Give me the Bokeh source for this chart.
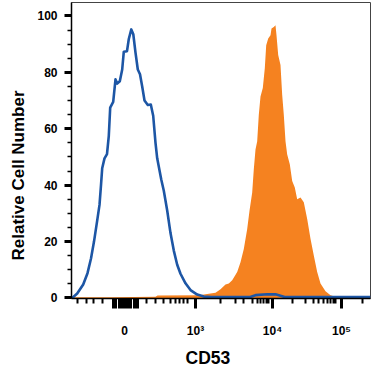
from bokeh.plotting import figure
from bokeh.models import Range1d, FixedTicker, Title
from bokeh.embed import file_html
from bokeh.resources import INLINE

# x values are positions on the biexponential (logicle) display scale, in display units
# Blue: control histogram (outline)
blue_x = [0.7, 5.7, 11.7, 16, 19.5, 22.5, 25.5, 28, 29.5, 30.7, 33, 35.5, 37.3, 38.7, 41.7,
          44, 45.7, 48.3, 50.7, 52.3, 55.5, 57.3, 59.8, 61.8, 64, 66.3, 68.5, 70.7, 73,
          76.3, 79.3, 81.7, 84, 85.7, 89.7, 92.3, 95.7, 99, 102.3, 105.7, 109, 114, 119,
          125.7, 132.3, 140, 178, 184, 195.7, 204, 209, 214, 299]
blue_y = [0, 1.6, 4.8, 8.8, 14, 20, 27, 33, 40, 46, 49.5, 51, 57.5, 67.5, 69.5,
          77.5, 76, 76.8, 81, 87.3, 87.5, 91.8, 95.2, 93.5, 87, 81, 79.3, 75, 70,
          68.4, 68.6, 64.6, 55, 49.5, 42.1, 38, 31, 23, 16.8, 11.8, 8.6, 5.2, 2.8,
          1.2, 0.5, 0.3, 0.3, 1.0, 1.3, 1.3, 0.8, 0.3, 0.3]

# Orange: CD53 stained histogram (filled)
orange_x = [0, 40, 84, 86, 128, 134, 144, 149, 154, 157.3, 160.7, 165.7, 169, 172.3, 175.7,
            178, 180.7, 182.3, 184, 185.7, 187.3, 189, 191.3, 193.3, 194.7, 196.7, 199,
            200, 202.3, 204, 205, 206.7, 209, 210.7, 212.3, 214, 215.7, 218.3, 220.7,
            223.3, 225.7, 229, 232.3, 235.7, 239, 242.3, 245.7, 249, 254, 259, 264, 275, 299]
orange_y = [0.3, 0.3, 0.4, 0.9, 1.0, 1.3, 1.9, 3.1, 4.8, 5.1, 6.3, 9.2, 12.7, 17.4, 24.5,
            30.9, 37.4, 45.6, 52.6, 55.6, 65, 71.4, 74.4, 81.4, 89.6, 92, 93.1,
            95.5, 96.1, 96.7, 93.1, 86.1, 82.6, 72, 65, 55.6, 50.9, 47.4, 41.5,
            39.2, 35, 35.6, 33.9, 28, 21, 15.1, 9.2, 5.1, 2.4, 1.0, 0.4, 0.2, 0.2]

# Axis ticks
x_major = [41.5, 44, 47.5, 50, 53, 56, 59, 63, 65.5, 124, 201, 270]
x_labels = {53: "0", 124: "10³", 201: "10⁴", 270: "10⁵"}
x_minor = [-1, 6.3, 14.7, 22.3, 31.3, 75, 84, 91.7, 99, 104, 108.3, 112.3, 115.7,
           149, 164, 172.3, 180.7, 185.7, 189, 192.3, 195, 197.3,
           220.7, 234, 242.3, 247.3, 252.3, 255.7, 259, 262.3, 264, 290.7]
y_major = [0, 20, 40, 60, 80, 100]
y_minor = [5, 10, 15, 25, 30, 35, 45, 50, 55, 65, 70, 75, 85, 90, 95]

x_title = "CD53"
y_title = "Relative Cell Number"

FONT = "Liberation Sans"

p = figure(width=371, height=372, output_backend="svg", toolbar_location=None,
           x_range=Range1d(0, 299), y_range=Range1d(-0.18, 104.75),
           min_border_left=71, min_border_right=1, min_border_top=2, min_border_bottom=72)
p.grid.visible = False
p.outline_line_color = "#444444"
p.outline_line_width = 1
p.background_fill_color = "white"
p.border_fill_color = "white"

p.varea(x=orange_x, y1=0, y2=orange_y, fill_color="#f58220")
p.line(blue_x, blue_y, line_color="#1d56a5", line_width=2.6, line_join="round")

labels = {t: "" for t in x_major}
labels.update(x_labels)
p.xaxis.ticker = FixedTicker(ticks=x_major, minor_ticks=x_minor)
p.xaxis.major_label_overrides = labels
p.yaxis.ticker = FixedTicker(ticks=y_major, minor_ticks=y_minor)

for ax in (p.xaxis[0], p.yaxis[0]):
    ax.axis_line_color = "black"
    ax.axis_line_width = 1.5
    ax.major_tick_in = 0
    ax.minor_tick_in = 0
    ax.major_tick_line_color = "black"
    ax.minor_tick_line_color = "black"
    ax.major_tick_line_width = 3
    ax.major_label_text_font = FONT
    ax.major_label_text_font_style = "bold"
    ax.major_label_text_font_size = "12px"
    ax.major_label_text_color = "black"

p.xaxis.major_tick_out = 10
p.xaxis.minor_tick_out = 5
p.xaxis.minor_tick_line_width = 2
p.xaxis.major_label_standoff = 15
p.yaxis.major_tick_out = 7
p.yaxis.minor_tick_out = 4
p.yaxis.minor_tick_line_width = 1.5
p.yaxis.major_label_standoff = 7

ytitle = Title(text=y_title, align="left", offset=38, vertical_align="top", text_font=FONT,
               text_font_style="bold", text_font_size="17px", text_color="black",
               standoff=10)
xtitle = Title(text=x_title, align="left", offset=114, text_font=FONT,
               text_font_style="bold", text_font_size="17.5px", text_color="black",
               standoff=10)
p.add_layout(ytitle, "left")
p.add_layout(xtitle, "below")

open("out.html", "w").write(file_html(p, INLINE))
